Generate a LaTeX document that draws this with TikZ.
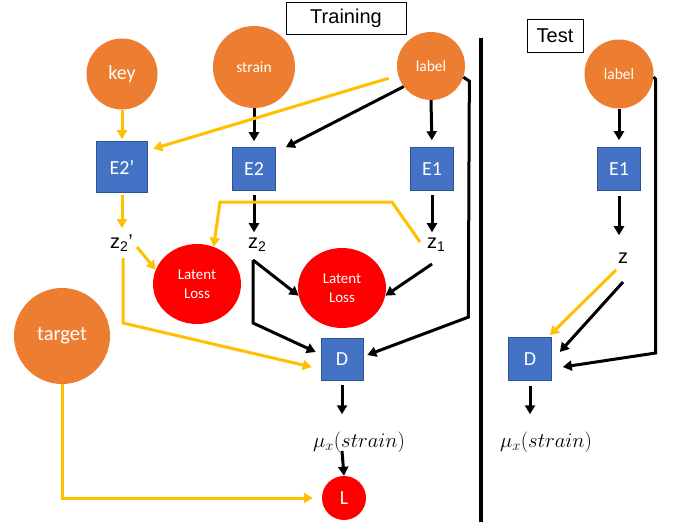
\documentclass[tikz,border=0pt]{standalone}
\usepackage{fontspec}
\setmainfont{Carlito}
\newfontfamily\arialf{Liberation Sans}
\usetikzlibrary{arrows.meta,calc,shapes.geometric}
\definecolor{orng}{HTML}{ED7D31}
\definecolor{blu}{HTML}{4472C4}
\definecolor{bluedge}{HTML}{2F528F}
\definecolor{ylw}{HTML}{FFC000}
\definecolor{lossred}{HTML}{FF0000}
\begin{document}
\begin{tikzpicture}[x=1pt,y=-1pt,
  orb/.style={circle,fill=orng,text=white,inner sep=0pt},
  enc/.style={rectangle,fill=blu,draw=bluedge,line width=0.6pt,text=white,inner sep=0pt,font=\fontsize{20}{24}\selectfont},
  loss/.style={ellipse,fill=lossred,text=white,inner sep=0pt,minimum width=88pt,minimum height=80pt,align=center,font=\fontsize{15}{19}\selectfont},
  zlab/.style={inner sep=0pt,anchor=base west,font=\arialf\fontsize{20}{24}\selectfont},
  mulab/.style={inner sep=0pt,anchor=base,font=\fontsize{20}{24}\selectfont},
  titlebox/.style={draw=black,line width=0.8pt,inner sep=0pt,font=\arialf\fontsize{20}{24}\selectfont},
  barrow/.style={draw=black,line width=3pt,line join=miter,-{Triangle[length=9pt,width=10pt]}},
  yarrow/.style={draw=ylw,line width=3pt,line join=miter,-{Triangle[length=9pt,width=10pt]}}]
\useasboundingbox (0,0) rectangle (675,525);

% titles and divider
\node[titlebox,minimum width=120pt,minimum height=32pt] (train) at (346,18) {Training};
\node[titlebox,minimum width=56pt,minimum height=33pt] (test) at (555,35.5) {Test};
\draw[line width=3.5pt] (481,38) -- (481,522);

% inputs
\node[orb,minimum size=71pt,font=\fontsize{20}{24}\selectfont] (key) at (122,74) {key};
\node[orb,minimum size=82pt,font=\fontsize{15.5}{18}\selectfont] (strain) at (254,67) {strain};
\node[orb,minimum size=68pt,font=\fontsize{15.5}{18}\selectfont] (labelA) at (431,66) {label};
\node[orb,minimum size=69pt,font=\fontsize{15.5}{18}\selectfont] (labelB) at (619,74) {label};
\node[orb,minimum size=96pt,font=\fontsize{20.5}{24}\selectfont] (target) at (62,336) {target};

% encoders / decoders
\node[enc,minimum size=51pt] (E2p) at (122,167) {E2’};
\node[enc,minimum size=43pt] (E2) at (254,169) {E2};
\node[enc,minimum size=43pt] (E1a) at (432,169) {E1};
\node[enc,minimum size=43pt] (E1b) at (619,169) {E1};
\node[enc,minimum size=42pt] (Da) at (342,359) {D};
\node[enc,minimum size=43pt] (Db) at (530,359) {D};

% losses
\node[loss] (LL1) at (197,284) {Latent\\Loss};
\node[loss] (LL2) at (342,288) {Latent\\Loss};
\node[circle,fill=lossred,text=white,inner sep=0pt,minimum size=44pt,font=\fontsize{20}{24}\selectfont] (Lnode) at (344,498) {L};

% latent labels
\node[zlab] (z2p) at (110,248) {z\textsubscript{2}’};
\node[zlab] (z2) at (248,248) {z\textsubscript{2}};
\node[zlab] (z1) at (427,248) {z\textsubscript{1}};
\node[zlab] (zt) at (618,263) {z};

% outputs
\node[mulab] (mua) at (359,447) {$\mu_x(strain)$};
\node[mulab] (mub) at (546,447) {$\mu_x(strain)$};

% ---- black connectors (training)
\draw[barrow,shorten >=6pt] (strain.south) -- (E2.north);
\draw[barrow] (labelA.-143) -- ([xshift=10pt]E2.north east);
\draw[barrow,shorten >=7pt] (labelA.south) -- (E1a.north);
\draw[barrow,shorten <=4pt,shorten >=5pt] (E2.south) -- (E2.south |- z2.north);
\draw[barrow,shorten <=4pt,shorten >=5pt] (E1a.south) -- (E1a.south |- z1.north);
\coordinate (z2o) at ($(z2.base west)+(5,12)$);
\coordinate (z2c) at ($(z2o)+(0,63)$);
\draw[barrow] (z2o) -- (LL2.-170);
\draw[barrow] (z2o) -- (z2c) -- ([xshift=-5pt,yshift=7pt]Da.west);
\coordinate (z1o) at ($(z1.base west)+(5,16)$);
\draw[barrow] (z1o) -- (LL2.-10);
\coordinate (la1) at ($(labelA.-19)+(6,4)$);
\coordinate (la2) at ($(la1)+(-1,236)$);
\draw[barrow] (labelA.-19) -- (la1) -- (la2) -- ([xshift=4pt,yshift=4pt]Da.east);
\draw[barrow,shorten <=5pt,shorten >=17pt] (Da.south) -- (Da.south |- mua.north);
\draw[barrow] ($(Da.south |- mua.base)+(0,4)$) -- (Lnode.north);

% ---- black connectors (test)
\draw[barrow,shorten >=7pt] (labelB.south) -- (E1b.north);
\draw[barrow,shorten <=5pt,shorten >=17pt] (E1b.south) -- (E1b.south |- zt.north);
\coordinate (zto) at ($(zt.base west)+(5,19)$);
\draw[barrow] (zto) -- ([xshift=8pt,yshift=7pt]Db.east);
\coordinate (lb1) at ($(labelB.-5)+(2,2)$);
\coordinate (lb2) at ($(lb1)+(0,274)$);
\draw[barrow] (labelB.-5) -- (lb1) -- (lb2) -- ([xshift=11pt,yshift=-8pt]Db.east);
\draw[barrow,shorten <=5pt,shorten >=17pt] (Db.south) -- (Db.south |- mub.north);

% ---- yellow connectors
\draw[yarrow,shorten >=2pt] (key.south) -- (E2p.north);
\draw[yarrow,shorten <=10pt] (labelA.-164) -- ([xshift=5.5pt,yshift=-7.5pt]E2p.north east);
\draw[yarrow,shorten <=2pt,shorten >=6pt] (E2p.south) -- (E2p.south |- z2p.north);
\draw[yarrow] ($(z2p.base west)+(27,-1)$) -- (LL1.161);
\coordinate (z2po) at ($(z2p.base west)+(13,10)$);
\coordinate (z2pc) at ($(z2po)+(0,65)$);
\draw[yarrow] (z2po) -- (z2pc) -- ([xshift=-9pt,yshift=-8pt]Da.west);
\coordinate (z1y) at ($(z1.base west)+(-7,-6)$);
\coordinate (ya) at ($(z1y)+(-28,-40)$);
\coordinate (yb) at ($(ya)+(-172,0)$);
\draw[yarrow] (z1y) -- (ya) -- (yb) -- (LL1.66);
\draw[yarrow,shorten >=9pt] (target.south) -- (target.south |- Lnode.west) -- (Lnode.west);
\draw[yarrow] ($(zt.base west)+(-2,7)$) -- ([xshift=-2pt,yshift=2pt]Db.north east);
\end{tikzpicture}
\end{document}
